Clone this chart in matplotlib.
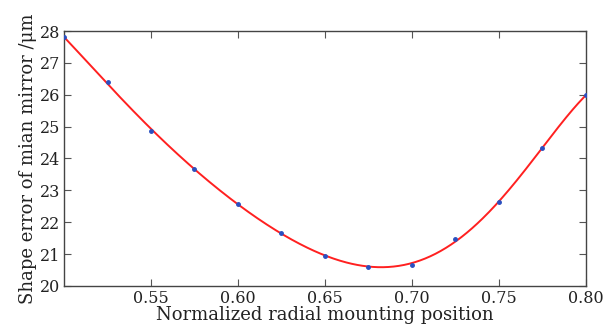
import numpy as np
import matplotlib
matplotlib.use("Agg")
import matplotlib.pyplot as plt

positions = [0.500, 0.525, 0.550, 0.575, 0.600, 0.625, 0.650, 0.675, 0.700, 0.725, 0.750, 0.775, 0.800]
shape_error = [27.80, 26.39, 24.87, 23.67, 22.58, 21.66, 20.95, 20.60, 20.67, 21.47, 22.63, 24.33, 25.99]
x_ticks = [0.55, 0.60, 0.65, 0.70, 0.75, 0.80]
x_tick_labels = ["0.55", "0.60", "0.65", "0.70", "0.75", "0.80"]
y_ticks = [20, 21, 22, 23, 24, 25, 26, 27, 28]

plt.rcParams['font.family'] = ['DejaVu Serif']

fig = plt.figure(figsize=(6.04, 3.32), dpi=100)
ax = fig.add_axes([0.106, 0.1386, 0.864, 0.768])

# smooth fitted curve of the measured points
coef = np.polyfit(positions, shape_error, 6)
xs = np.linspace(min(positions), max(positions), 400)
ax.plot(xs, np.polyval(coef, xs), color='#ff2020', lw=1.4, zorder=2)
ax.plot(positions, shape_error, 'o', color='#2a4fc0', ms=2.5, zorder=3)

ax.set_xlim(0.5, 0.8)
ax.set_ylim(20, 28)
ax.set_xticks(x_ticks)
ax.set_xticklabels(x_tick_labels)
ax.set_yticks(y_ticks)
ax.tick_params(direction='in', labelsize=11.5, length=5, width=0.8, colors='#555555',
               labelcolor='#222222', pad=3)
ax.tick_params(axis='both', right=True, top=True)
for s in ax.spines.values():
    s.set_color('#444444')
    s.set_linewidth(1.0)
ax.set_xlabel('Normalized radial mounting position', fontsize=13, labelpad=-1, color='#222222')
ax.set_ylabel('Shape error of mian mirror /μm', fontsize=13, labelpad=2, color='#222222')

fig.savefig('out.png', dpi=100)
